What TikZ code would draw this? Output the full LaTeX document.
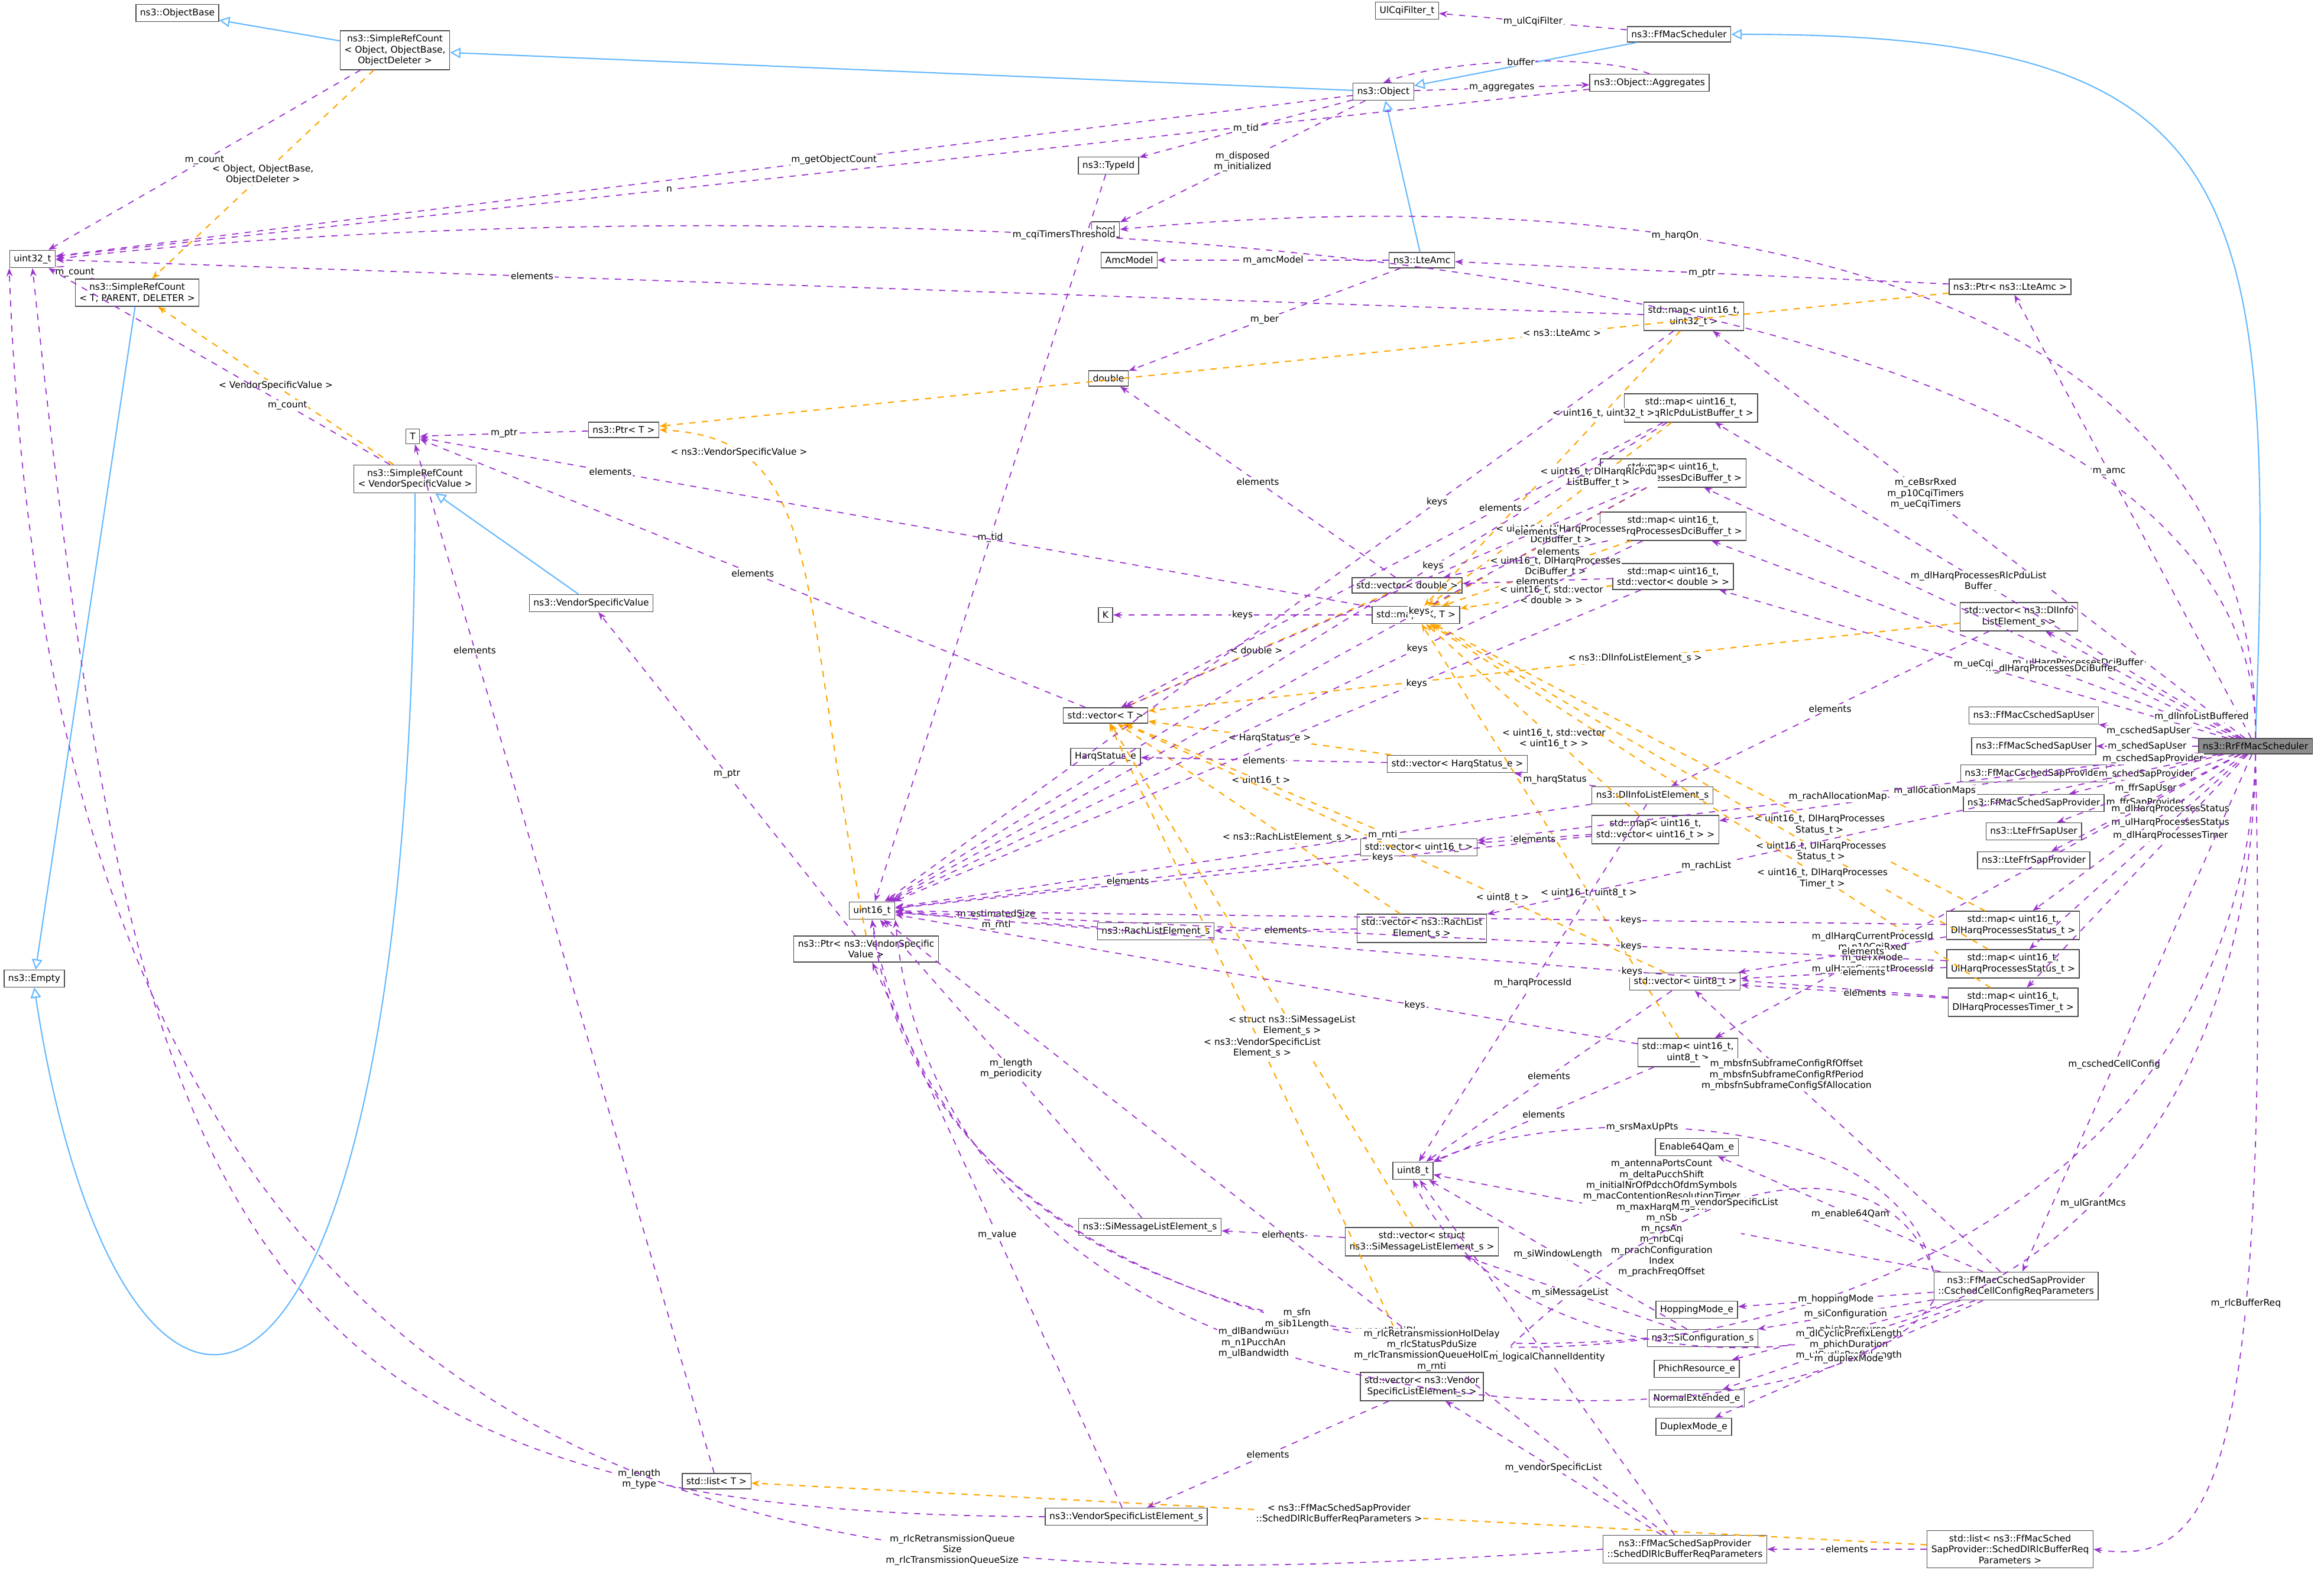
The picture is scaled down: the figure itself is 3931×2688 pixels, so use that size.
\documentclass[tikz,border=0pt]{standalone}
\usepackage{fontspec}
\setmainfont{DejaVu Sans}
\usetikzlibrary{arrows.meta}
\definecolor{pu}{HTML}{9A32CD}
\definecolor{bl}{HTML}{63B8FF}
\definecolor{og}{HTML}{FFA500}
\begin{document}
\begin{tikzpicture}[x=0.01cm,y=-0.01cm,
 box/.style={draw=black!70,fill=white,inner sep=2pt,align=center,font=\fontsize{4.4}{5.2}\selectfont,line width=0.4pt},
 lab/.style={font=\fontsize{4.4}{5.2}\selectfont,align=center,fill=white,inner sep=0.5pt},
 use/.style={draw=pu,dashed,line width=0.5pt,-{Stealth[length=4pt,width=3pt]}},
 inh/.style={draw=bl,line width=0.6pt,-{Triangle[open,length=5pt,width=5pt]}},
 tpl/.style={draw=og,dashed,line width=0.6pt,-{Stealth[length=4pt,width=3pt]}}]
\useasboundingbox (0,0) rectangle (3931,2688);
\node[box] (ob) at (300,22) {ns3::ObjectBase};
\node[box] (src1) at (668,85) {ns3::SimpleRefCount\\< Object, ObjectBase,\\ ObjectDeleter >};
\node[box] (u32) at (55,438) {uint32\_t};
\node[box] (srct) at (232,495) {ns3::SimpleRefCount\\< T, PARENT, DELETER >};
\node[box] (empty) at (58,1655) {ns3::Empty};
\node[box] (T) at (698,738) {T};
\node[box] (ptrt) at (1055,727) {ns3::Ptr< T >};
\node[box] (srcv) at (702,810) {ns3::SimpleRefCount\\< VendorSpecificValue >};
\node[box] (vsv) at (1000,1020) {ns3::VendorSpecificValue};
\node[box] (obj) at (2340,155) {ns3::Object};
\node[box] (tid) at (1875,280) {ns3::TypeId};
\node[box] (ffm) at (2840,58) {ns3::FfMacScheduler};
\node[box] (ulc) at (2380,18) {UlCqiFilter\_t};
\node[box] (agg) at (2790,140) {ns3::Object::Aggregates};
\node[box] (bool) at (1870,388) {bool};
\node[box] (amcm) at (1910,440) {AmcModel};
\node[box] (amc) at (2405,440) {ns3::LteAmc};
\node[box] (pamc) at (3400,485) {ns3::Ptr< ns3::LteAmc >};
\node[box] (m32) at (2865,535) {std::map< uint16\_t,\\ uint32\_t >};
\node[box] (dbl) at (1875,640) {double};
\node[box] (mrlc) at (2860,690) {std::map< uint16\_t,\\ DlHarqRlcPduListBuffer\_t >};
\node[box] (muld) at (2830,800) {std::map< uint16\_t,\\ UlHarqProcessesDciBuffer\_t >};
\node[box] (mdld) at (2830,890) {std::map< uint16\_t,\\ DlHarqProcessesDciBuffer\_t >};
\node[box] (vd) at (2380,990) {std::vector< double >};
\node[box] (mvd) at (2830,975) {std::map< uint16\_t,\\ std::vector< double > >};
\node[box] (mkt) at (2395,1040) {std::map< K, T >};
\node[box] (K) at (1870,1040) {K};
\node[box] (vdl) at (3415,1043) {std::vector< ns3::DlInfo\\ListElement\_s >};
\node[box] (vt) at (1870,1210) {std::vector< T >};
\node[box] (hs) at (1870,1280) {HarqStatus\_e};
\node[box] (vhs) at (2465,1292) {std::vector< HarqStatus\_e >};
\node[box] (dli) at (2795,1345) {ns3::DlInfoListElement\_s};
\node[box] (csu) at (3440,1210) {ns3::FfMacCschedSapUser};
\node[box] (ssu) at (3440,1262) {ns3::FfMacSchedSapUser};
\node[box] (csp) at (3440,1308) {ns3::FfMacCschedSapProvider};
\node[box] (ssp) at (3440,1358) {ns3::FfMacSchedSapProvider};
\node[box] (fsu) at (3440,1406) {ns3::LteFfrSapUser};
\node[box] (fsp) at (3440,1455) {ns3::LteFfrSapProvider};
\node[box,fill=black!45,anchor=east] (rr) at (3912,1262) {ns3::RrFfMacScheduler};
\node[box] (v16) at (2400,1433) {std::vector< uint16\_t >};
\node[box] (mv16) at (2800,1403) {std::map< uint16\_t,\\ std::vector< uint16\_t > >};
\node[box] (u16) at (1475,1540) {uint16\_t};
\node[box] (rach) at (1955,1575) {ns3::RachListElement\_s};
\node[box] (vrach) at (2405,1570) {std::vector< ns3::RachList\\Element\_s >};
\node[box] (pvsv) at (1465,1605) {ns3::Ptr< ns3::VendorSpecific\\Value >};
\node[box] (mdls) at (3405,1565) {std::map< uint16\_t,\\ DlHarqProcessesStatus\_t >};
\node[box] (muls) at (3405,1630) {std::map< uint16\_t,\\ UlHarqProcessesStatus\_t >};
\node[box] (v8) at (2850,1660) {std::vector< uint8\_t >};
\node[box] (mdlt) at (3405,1695) {std::map< uint16\_t,\\ DlHarqProcessesTimer\_t >};
\node[box] (m8) at (2855,1780) {std::map< uint16\_t,\\ uint8\_t >};
\node[box] (u8) at (2390,1980) {uint8\_t};
\node[box] (e64) at (2870,1940) {Enable64Qam\_e};
\node[box] (sim) at (1945,2075) {ns3::SiMessageListElement\_s};
\node[box] (vsim) at (2405,2100) {std::vector< struct\\ ns3::SiMessageListElement\_s >};
\node[box] (ccr) at (3410,2175) {ns3::FfMacCschedSapProvider\\::CschedCellConfigReqParameters};
\node[box] (hop) at (2870,2215) {HoppingMode\_e};
\node[box] (sic) at (2880,2263) {ns3::SiConfiguration\_s};
\node[box] (phi) at (2870,2315) {PhichResource\_e};
\node[box] (vven) at (2405,2345) {std::vector< ns3::Vendor\\SpecificListElement\_s >};
\node[box] (ne) at (2870,2365) {NormalExtended\_e};
\node[box] (dm) at (2865,2413) {DuplexMode\_e};
\node[box] (ven) at (1905,2565) {ns3::VendorSpecificListElement\_s};
\node[box] (lt) at (1212,2505) {std::list< T >};
\node[box] (sdl) at (2850,2620) {ns3::FfMacSchedSapProvider\\::SchedDlRlcBufferReqParameters};
\node[box] (lsdl) at (3400,2620) {std::list< ns3::FfMacSched\\SapProvider::SchedDlRlcBufferReq\\Parameters >};
% inheritance
\draw[inh] (src1) -- (ob);
\draw[inh] (obj) -- (src1);
\draw[inh] (ffm) -- (obj);
\draw[inh] (amc) -- (obj);
\draw[inh] (rr.north) .. controls (3850,300) and (3800,58) .. (ffm.east);
\draw[inh] (srct) -- (empty);
\draw[inh] (srcv.south) .. controls (700,2600) and (200,2600) .. (empty.south);
\draw[inh] (vsv) -- (srcv);
% templates
\draw[tpl] (src1) -- node[lab]{< Object, ObjectBase,\\ ObjectDeleter >} (srct);
\draw[tpl] (srcv) -- node[lab]{< VendorSpecificValue >} (srct);
\draw[tpl] (pamc) -- node[lab,pos=0.3]{< ns3::LteAmc >} (ptrt);
\draw[tpl] (pvsv.north) .. controls (1350,1000) and (1400,740) .. node[lab,pos=0.8]{< ns3::VendorSpecificValue >} (ptrt.east);
\draw[tpl] (m32) -- node[lab,pos=0.3]{< uint16\_t, uint32\_t >} (mkt);
\draw[tpl] (mrlc) -- node[lab,pos=0.3]{< uint16\_t, DlHarqRlcPdu\\ListBuffer\_t >} (mkt);
\draw[tpl] (muld) -- node[lab,pos=0.4]{< uint16\_t, UlHarqProcesses\\DciBuffer\_t >} (mkt);
\draw[tpl] (mdld) -- node[lab,pos=0.4]{< uint16\_t, DlHarqProcesses\\DciBuffer\_t >} (mkt);
\draw[tpl] (mvd) -- node[lab,pos=0.4]{< uint16\_t, std::vector\\< double > >} (mkt);
\draw[tpl] (mdls) -- node[lab,pos=0.3]{< uint16\_t, DlHarqProcesses\\Status\_t >} (mkt);
\draw[tpl] (muls) -- node[lab,pos=0.3]{< uint16\_t, UlHarqProcesses\\Status\_t >} (mkt);
\draw[tpl] (mv16) -- node[lab,pos=0.4]{< uint16\_t, std::vector\\< uint16\_t > >} (mkt);
\draw[tpl] (mdlt) -- node[lab,pos=0.3]{< uint16\_t, DlHarqProcesses\\Timer\_t >} (mkt);
\draw[tpl] (m8) -- node[lab,pos=0.35]{< uint16\_t, uint8\_t >} (mkt);
\draw[tpl] (vd) -- node[lab]{< double >} (vt);
\draw[tpl] (vdl) -- node[lab,pos=0.4]{< ns3::DlInfoListElement\_s >} (vt);
\draw[tpl] (vhs) -- node[lab]{< HarqStatus\_e >} (vt);
\draw[tpl] (v16) -- node[lab]{< uint16\_t >} (vt);
\draw[tpl] (vrach) -- node[lab,pos=0.4]{< ns3::RachListElement\_s >} (vt);
\draw[tpl] (vsim) -- node[lab,pos=0.4]{< struct ns3::SiMessageList\\Element\_s >} (vt);
\draw[tpl] (v8) -- node[lab,pos=0.3]{< uint8\_t >} (vt);
\draw[tpl] (vven) -- node[lab,pos=0.5]{< ns3::VendorSpecificList\\Element\_s >} (vt);
\draw[tpl] (lsdl) -- node[lab,pos=0.5]{< ns3::FfMacSchedSapProvider\\::SchedDlRlcBufferReqParameters >} (lt);
% usage
\draw[use] (src1) -- node[lab]{m\_count} (u32);
\draw[use] (srct) -- node[lab]{m\_count} (u32);
\draw[use] (srcv) -- node[lab,pos=0.3]{m\_count} (u32);
\draw[use] (obj) -- node[lab,pos=0.4]{m\_getObjectCount} (u32);
\draw[use] (agg) -- node[lab,pos=0.6]{n} (u32);
\draw[use] (obj) -- node[lab]{m\_tid} (tid);
\draw[use] (obj) -- node[lab]{m\_disposed\\m\_initialized} (bool);
\draw[use] (obj) -- node[lab]{m\_aggregates} (agg);
\draw[use] (agg.north) .. controls (2700,90) and (2450,100) .. node[lab]{buffer} (obj.north);
\draw[use] (ffm) -- node[lab]{m\_ulCqiFilter} (ulc);
\draw[use] (tid) -- node[lab]{m\_tid} (u16);
\draw[use] (rr.north) .. controls (3830,280) and (1000,330) .. node[lab,pos=0.6]{m\_cqiTimersThreshold} (u32.east);
\draw[use] (rr.north) .. controls (3820,320) and (2500,330) .. node[lab,pos=0.6]{m\_harqOn} (bool.east);
\draw[use] (amc) -- node[lab]{m\_amcModel} (amcm);
\draw[use] (amc) -- node[lab]{m\_ber} (dbl);
\draw[use] (pamc) -- node[lab]{m\_ptr} (amc);
\draw[use] (rr) -- node[lab,pos=0.6]{m\_amc} (pamc);
\draw[use] (ptrt) -- node[lab]{m\_ptr} (T);
\draw[use] (m32) -- node[lab,pos=0.7]{elements} (u32);
\draw[use] (m32) -- node[lab,pos=0.3]{keys} (u16);
\draw[use] (rr) -- node[lab,pos=0.6]{m\_ceBsrRxed\\m\_p10CqiTimers\\m\_ueCqiTimers} (m32);
\draw[use] (mkt) -- node[lab,pos=0.8]{elements} (T);
\draw[use] (vt) -- node[lab]{elements} (T);
\draw[use] (lt) -- node[lab,pos=0.8]{elements} (T);
\draw[use] (mkt) -- node[lab]{keys} (K);
\draw[use] (mrlc) -- node[lab,pos=0.3]{keys} (u16);
\draw[use] (mrlc) -- node[lab,pos=0.3]{elements} (vt);
\draw[use] (muld) -- node[lab,pos=0.3]{keys} (u16);
\draw[use] (muld) -- node[lab,pos=0.2]{elements} (vt);
\draw[use] (mdld) -- node[lab,pos=0.3]{keys} (u16);
\draw[use] (mdld) -- node[lab,pos=0.3]{elements} (vd);
\draw[use] (vd) -- node[lab,pos=0.5]{elements} (dbl);
\draw[use] (mvd) -- node[lab,pos=0.5]{elements} (vd);
\draw[use] (mvd) -- node[lab,pos=0.3]{keys} (u16);
\draw[use] (rr) -- node[lab,pos=0.5]{m\_dlHarqProcessesRlcPduList\\Buffer} (mrlc);
\draw[use] (rr) -- node[lab,pos=0.3]{m\_ulHarqProcessesDciBuffer} (muld);
\draw[use] (rr) -- node[lab,pos=0.35]{m\_dlHarqProcessesDciBuffer} (mdld);
\draw[use] (rr) -- node[lab,pos=0.5]{m\_ueCqi} (mvd);
\draw[use] (rr) -- node[lab,pos=0.2]{m\_dlInfoListBuffered} (vdl);
\draw[use] (vdl) -- node[lab,pos=0.5]{elements} (dli);
\draw[use] (rr) -- node[lab,pos=0.55]{m\_allocationMaps} (mv16);
\draw[use] (rr) -- node[lab,pos=0.5]{m\_rachAllocationMap} (v16);
\draw[use] (rr) -- node[lab,pos=0.5]{m\_cschedSapUser} (csu);
\draw[use] (rr) -- node[lab,pos=0.5]{m\_schedSapUser} (ssu);
\draw[use] (rr) -- node[lab,pos=0.5]{m\_cschedSapProvider} (csp);
\draw[use] (rr) -- node[lab,pos=0.5]{m\_schedSapProvider} (ssp);
\draw[use] (rr) -- node[lab,pos=0.5]{m\_ffrSapUser} (fsu);
\draw[use] (rr) -- node[lab,pos=0.5]{m\_ffrSapProvider} (fsp);
\draw[use] (rr) -- node[lab,pos=0.7]{m\_rachList} (vrach);
\draw[use] (rr) -- node[lab,pos=0.35]{m\_dlHarqProcessesStatus} (mdls);
\draw[use] (rr) -- node[lab,pos=0.35]{m\_ulHarqProcessesStatus} (muls);
\draw[use] (rr) -- node[lab,pos=0.35]{m\_dlHarqProcessesTimer} (mdlt);
\draw[use] (rr) -- node[lab,pos=0.7]{m\_dlHarqCurrentProcessId\\m\_p10CqiRxed\\m\_ueTxMode\\m\_ulHarqCurrentProcessId} (m8);
\draw[use] (rr) -- node[lab,pos=0.6]{m\_cschedCellConfig} (ccr);
\draw[use] (rr.south) .. controls (3800,2450) and (2600,2450) .. node[lab,pos=0.3]{m\_ulGrantMcs} (u8.south);
\draw[use] (rr.south) .. controls (3780,2560) and (1600,2560) .. node[lab,pos=0.6]{m\_nextRntiDl\\m\_nextRntiUl} (u16.south);
\draw[use] (rr.south) .. controls (3840,2500) and (3750,2650) .. node[lab,pos=0.35]{m\_rlcBufferReq} (lsdl.east);
\draw[use] (dli) -- node[lab]{m\_harqStatus} (vhs);
\draw[use] (dli) -- node[lab,pos=0.3]{m\_rnti} (u16);
\draw[use] (dli) -- node[lab,pos=0.5]{m\_harqProcessId} (u8);
\draw[use] (vhs) -- node[lab]{elements} (hs);
\draw[use] (v16) -- node[lab]{elements} (u16);
\draw[use] (mv16) -- node[lab]{elements} (v16);
\draw[use] (mv16) -- node[lab,pos=0.3]{keys} (u16);
\draw[use] (vrach) -- node[lab]{elements} (rach);
\draw[use] (rach) -- node[lab]{m\_estimatedSize\\m\_rnti} (u16);
\draw[use] (mdls) -- node[lab,pos=0.4]{elements} (v8);
\draw[use] (muls) -- node[lab,pos=0.4]{elements} (v8);
\draw[use] (mdlt) -- node[lab,pos=0.4]{elements} (v8);
\draw[use] (mdls) -- node[lab,pos=0.3]{keys} (u16);
\draw[use] (muls) -- node[lab,pos=0.3]{keys} (u16);
\draw[use] (mdlt) -- node[lab,pos=0.3]{keys} (u16);
\draw[use] (v8) -- node[lab]{elements} (u8);
\draw[use] (m8) -- node[lab]{elements} (u8);
\draw[use] (m8) -- node[lab,pos=0.3]{keys} (u16);
\draw[use] (ccr) -- node[lab,pos=0.7]{m\_mbsfnSubframeConfigRfOffset\\m\_mbsfnSubframeConfigRfPeriod\\m\_mbsfnSubframeConfigSfAllocation} (v8);
\draw[use] (ccr) -- node[lab,pos=0.55]{m\_antennaPortsCount\\m\_deltaPucchShift\\m\_initialNrOfPdcchOfdmSymbols\\m\_macContentionResolutionTimer\\m\_maxHarqMsg3Tx\\m\_nSb\\m\_ncsAn\\m\_nrbCqi\\m\_prachConfiguration\\Index\\m\_prachFreqOffset} (u8);
\draw[use] (ccr.north west) .. controls (3200,1850) and (2600,1880) .. node[lab,pos=0.6]{m\_srsMaxUpPts} (u8.north east);
\draw[use] (ccr) -- node[lab]{m\_enable64Qam} (e64);
\draw[use] (ccr) -- node[lab]{m\_hoppingMode} (hop);
\draw[use] (ccr) -- node[lab]{m\_siConfiguration} (sic);
\draw[use] (ccr) -- node[lab]{m\_phichResource} (phi);
\draw[use] (ccr) -- node[lab]{m\_dlCyclicPrefixLength\\m\_phichDuration\\m\_ulCyclicPrefixLength} (ne);
\draw[use] (ccr) -- node[lab]{m\_duplexMode} (dm);
\draw[use] (ccr.north west) .. controls (3200,1950) and (2900,1930) .. node[lab,pos=0.6]{m\_vendorSpecificList} (vven.north east);
\draw[use] (ccr.south west) .. controls (3100,2480) and (1600,2500) .. node[lab,pos=0.6]{m\_dlBandwidth\\m\_n1PucchAn\\m\_ulBandwidth} (u16.south east);
\draw[use] (sic) -- node[lab]{m\_siWindowLength} (u8);
\draw[use] (sic) -- node[lab]{m\_siMessageList} (vsim);
\draw[use] (sic.west) .. controls (2400,2300) and (1600,2250) .. node[lab,pos=0.4]{m\_sfn\\m\_sib1Length} (u16.south);
\draw[use] (vsim) -- node[lab]{elements} (sim);
\draw[use] (sim) -- node[lab]{m\_length\\m\_periodicity} (u16);
\draw[use] (vven) -- node[lab]{elements} (ven);
\draw[use] (ven) -- node[lab]{m\_value} (pvsv);
\draw[use] (ven.west) .. controls (400,2560) and (230,2100) .. node[lab,pos=0.2]{m\_length\\m\_type} (u32.south);
\draw[use] (pvsv) -- node[lab]{m\_ptr} (vsv);
\draw[use] (sdl.west) .. controls (1500,2700) and (100,2750) .. node[lab,pos=0.3]{m\_rlcRetransmissionQueue\\Size\\m\_rlcTransmissionQueueSize} (u32.south west);
\draw[use] (sdl) -- node[lab,pos=0.3]{m\_rlcRetransmissionHolDelay\\m\_rlcStatusPduSize\\m\_rlcTransmissionQueueHolDelay\\m\_rnti} (u16);
\draw[use] (sdl) -- node[lab,pos=0.5]{m\_logicalChannelIdentity} (u8);
\draw[use] (sdl) -- node[lab]{m\_vendorSpecificList} (vven);
\draw[use] (lsdl) -- node[lab]{elements} (sdl);
\end{tikzpicture}
\end{document}
